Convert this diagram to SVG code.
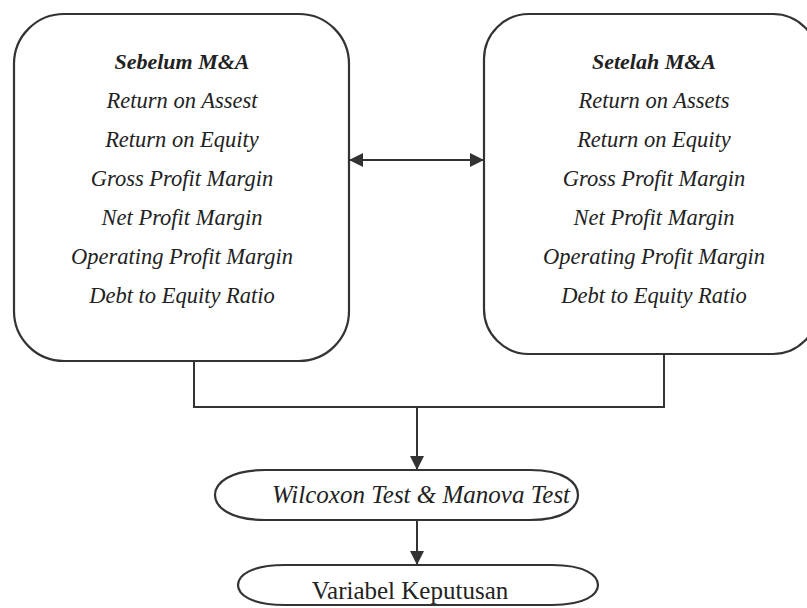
<svg xmlns="http://www.w3.org/2000/svg" width="807" height="608" viewBox="0 0 807 608">
  <style>
    .box { fill: none; stroke: #333; stroke-width: 2.2; }
    .line { fill: none; stroke: #333; stroke-width: 2; }
    .t { font-family: "Liberation Serif", "Times New Roman", serif; font-style: italic; font-size: 22.5px; fill: #222; text-anchor: middle; }
    .h { font-weight: bold; font-size: 22px; }
    .big { font-size: 25px; }
    .reg { font-style: normal; }
  </style>
  <defs>
    <marker id="ah" viewBox="0 0 10 10" refX="10" refY="5" markerWidth="7" markerHeight="7" markerUnits="strokeWidth" orient="auto-start-reverse">
      <path d="M0,0 L10,5 L0,10 Z" fill="#333"/>
    </marker>
  </defs>
  <rect width="807" height="608" fill="#fff"/>

  <g id="before">
    <rect class="box" x="14" y="14" width="335" height="347" rx="50" ry="50"/>
    <text class="t h" x="182" y="69">Sebelum M&amp;A</text>
    <text class="t" x="182" y="108">Return on Assest</text>
    <text class="t" x="182" y="147">Return on Equity</text>
    <text class="t" x="182" y="186">Gross Profit Margin</text>
    <text class="t" x="182" y="225">Net Profit Margin</text>
    <text class="t" x="182" y="264">Operating Profit Margin</text>
    <text class="t" x="182" y="303">Debt to Equity Ratio</text>
  </g>

  <g id="after">
    <rect class="box" x="484" y="14" width="334" height="340" rx="45" ry="45"/>
    <text class="t h" x="654" y="69">Setelah M&amp;A</text>
    <text class="t" x="654" y="108">Return on Assets</text>
    <text class="t" x="654" y="147">Return on Equity</text>
    <text class="t" x="654" y="186">Gross Profit Margin</text>
    <text class="t" x="654" y="225">Net Profit Margin</text>
    <text class="t" x="654" y="264">Operating Profit Margin</text>
    <text class="t" x="654" y="303">Debt to Equity Ratio</text>
  </g>

  <g id="test">
    <path class="box" d="M265,470 H530 C565,470 578,483 578,495 C578,507 565,520 530,520 H265 C230,520 215,507 215,495 C215,483 230,470 265,470 Z"/>
    <text class="t big" x="421" y="503">Wilcoxon Test &amp; Manova Test</text>
  </g>

  <g id="decision">
    <path class="box" d="M285,565 H552 C586,565 598,576 598,585 C598,594 586,605 552,605 H285 C250,605 238,594 238,585 C238,576 250,565 285,565 Z"/>
    <text class="t big reg" x="410" y="599">Variabel Keputusan</text>
  </g>

  <g id="connectors">
    <line class="line" x1="349" y1="160" x2="484" y2="160" marker-start="url(#ah)" marker-end="url(#ah)"/>
    <polyline class="line" points="194,361 194,407 664,407 664,354"/>
    <line class="line" x1="417" y1="407" x2="417" y2="470" marker-end="url(#ah)"/>
    <line class="line" x1="417" y1="520" x2="417" y2="565" marker-end="url(#ah)"/>
  </g>
</svg>
